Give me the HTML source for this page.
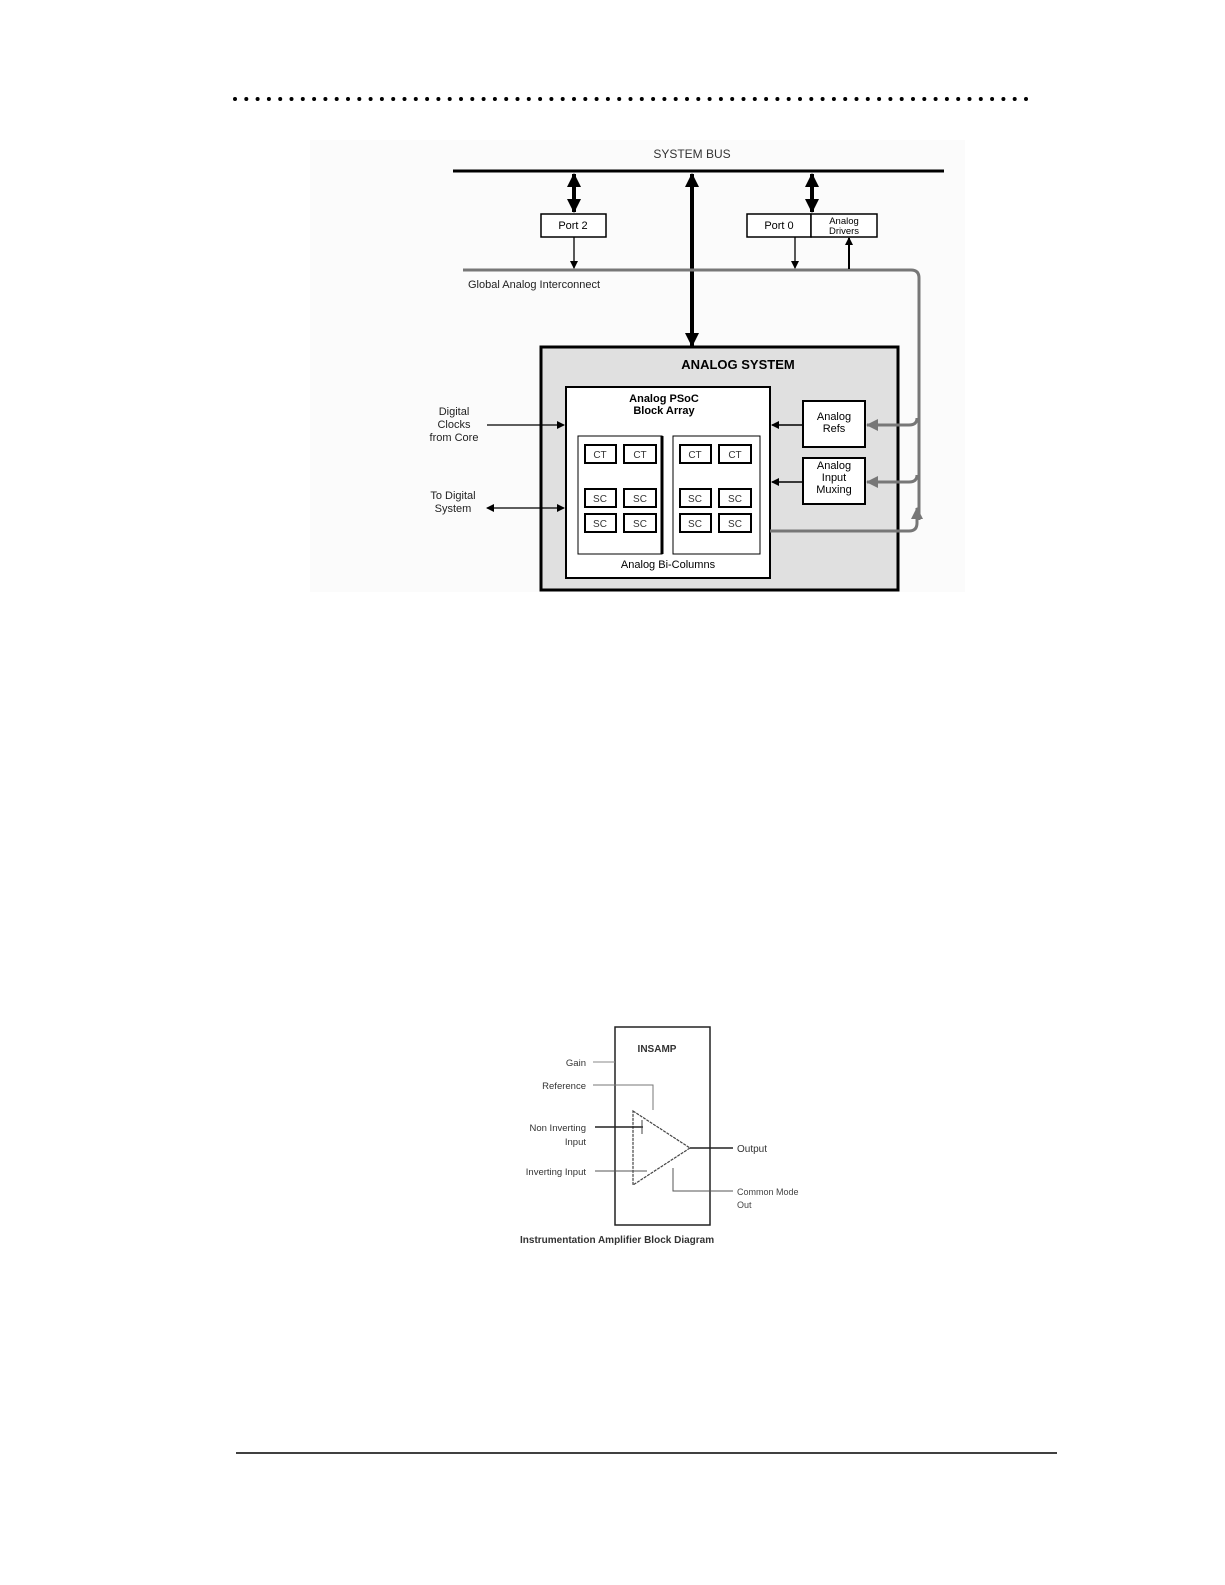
<!DOCTYPE html>
<html><head><meta charset="utf-8"><style>
html,body{margin:0;padding:0;background:#fff;}
svg{display:block;}
text{font-family:"Liberation Sans",sans-serif;}
</style></head><body>
<svg width="1225" height="1585" viewBox="0 0 1225 1585" xmlns="http://www.w3.org/2000/svg">
<defs>
<marker id="ab" markerWidth="8" markerHeight="8" refX="7" refY="4" orient="auto-start-reverse" markerUnits="userSpaceOnUse"><path d="M0,0 L8,4 L0,8 z" fill="#000"/></marker>
<marker id="abig" markerWidth="14" markerHeight="14" refX="13" refY="7" orient="auto-start-reverse" markerUnits="userSpaceOnUse"><path d="M0,0 L14,7 L0,14 z" fill="#000"/></marker>
<marker id="ag" markerWidth="12" markerHeight="12" refX="11" refY="6" orient="auto-start-reverse" markerUnits="userSpaceOnUse"><path d="M0,0 L12,6 L0,12 z" fill="#777"/></marker>
</defs>
<!-- dotted header -->
<line x1="235" y1="99" x2="1030" y2="99" stroke="#000" stroke-width="4" stroke-linecap="round" stroke-dasharray="0 11.3"/>
<!-- diagram bg -->
<rect x="310" y="140" width="655" height="452" fill="#fbfbfb"/>
<text x="692" y="158" font-size="12" text-anchor="middle" fill="#333">SYSTEM  BUS</text>
<line x1="453" y1="171" x2="944" y2="171" stroke="#000" stroke-width="3"/>
<!-- arrows from bus -->
<line x1="574" y1="174" x2="574" y2="212" stroke="#000" stroke-width="4" marker-start="url(#abig)" marker-end="url(#abig)"/>
<line x1="692" y1="174" x2="692" y2="346" stroke="#000" stroke-width="4" marker-start="url(#abig)" marker-end="url(#abig)"/>
<line x1="812" y1="174" x2="812" y2="212" stroke="#000" stroke-width="4" marker-start="url(#abig)" marker-end="url(#abig)"/>
<rect x="541" y="214" width="65" height="23" fill="#fff" stroke="#000" stroke-width="1.5"/>
<text x="573" y="229" font-size="11" text-anchor="middle">Port 2</text>
<rect x="747" y="214" width="64" height="23" fill="#fff" stroke="#000" stroke-width="1.5"/>
<rect x="811" y="214" width="66" height="23" fill="#fff" stroke="#000" stroke-width="1.5"/>
<text x="779" y="229" font-size="11" text-anchor="middle">Port 0</text>
<text x="844" y="224" font-size="9.5" text-anchor="middle">Analog</text>
<text x="844" y="234" font-size="9.5" text-anchor="middle">Drivers</text>
<!-- global analog interconnect -->
<path d="M463,270 H911 Q919,270 919,278 V520" fill="none" stroke="#777" stroke-width="3"/>
<line x1="574" y1="237" x2="574" y2="268" stroke="#000" stroke-width="1.3" marker-end="url(#ab)"/>
<line x1="795" y1="237" x2="795" y2="268" stroke="#000" stroke-width="1.3" marker-end="url(#ab)"/>
<line x1="849" y1="269" x2="849" y2="238" stroke="#000" stroke-width="2" marker-end="url(#ab)"/>
<text x="468" y="288" font-size="11" fill="#222">Global Analog Interconnect</text>
<!-- analog system -->
<rect x="541" y="347" width="357" height="243" fill="#e0e0e0" stroke="#000" stroke-width="3"/>
<text x="738" y="369" font-size="13" font-weight="bold" text-anchor="middle">ANALOG SYSTEM</text>
<rect x="566" y="387" width="204" height="191" fill="#fff" stroke="#000" stroke-width="2"/>
<text x="664" y="402" font-size="11" font-weight="bold" text-anchor="middle">Analog PSoC</text>
<text x="664" y="414" font-size="11" font-weight="bold" text-anchor="middle">Block Array</text>
<rect x="578" y="436" width="84" height="118" fill="#fff" stroke="#000" stroke-width="1"/>
<line x1="662" y1="436" x2="662" y2="554" stroke="#000" stroke-width="3"/>
<rect x="673" y="436" width="87" height="118" fill="#fff" stroke="#000" stroke-width="1"/>
<g fill="#fff" stroke="#000" stroke-width="2" >
<rect x="585" y="445" width="31" height="18"/><rect x="624" y="445" width="32" height="18"/>
<rect x="680" y="445" width="31" height="18"/><rect x="719" y="445" width="32" height="18"/>
<rect x="585" y="489" width="31" height="18"/><rect x="624" y="489" width="32" height="18"/>
<rect x="680" y="489" width="31" height="18"/><rect x="719" y="489" width="32" height="18"/>
<rect x="585" y="514" width="31" height="18"/><rect x="624" y="514" width="32" height="18"/>
<rect x="680" y="514" width="31" height="18"/><rect x="719" y="514" width="32" height="18"/>
</g>
<g font-size="10" text-anchor="middle" fill="#333">
<text x="600" y="458">CT</text><text x="640" y="458">CT</text><text x="695" y="458">CT</text><text x="735" y="458">CT</text>
<text x="600" y="502">SC</text><text x="640" y="502">SC</text><text x="695" y="502">SC</text><text x="735" y="502">SC</text>
<text x="600" y="527">SC</text><text x="640" y="527">SC</text><text x="695" y="527">SC</text><text x="735" y="527">SC</text>
</g>
<text x="668" y="568" font-size="11" text-anchor="middle">Analog Bi-Columns</text>
<rect x="803" y="401" width="62" height="46" fill="#fff" stroke="#000" stroke-width="2"/>
<text x="834" y="420" font-size="11" text-anchor="middle">Analog</text>
<text x="834" y="432" font-size="11" text-anchor="middle">Refs</text>
<rect x="803" y="458" width="62" height="46" fill="#fff" stroke="#000" stroke-width="2"/>
<text x="834" y="469" font-size="11" text-anchor="middle">Analog</text>
<text x="834" y="481" font-size="11" text-anchor="middle">Input</text>
<text x="834" y="493" font-size="11" text-anchor="middle">Muxing</text>
<line x1="803" y1="425" x2="772" y2="425" stroke="#000" stroke-width="1.5" marker-end="url(#ab)"/>
<line x1="803" y1="482" x2="772" y2="482" stroke="#000" stroke-width="1.5" marker-end="url(#ab)"/>
<path d="M917,418 Q917,425 909,425 H867" fill="none" stroke="#777" stroke-width="3" marker-end="url(#ag)"/>
<path d="M917,475 Q917,482 909,482 H867" fill="none" stroke="#777" stroke-width="3" marker-end="url(#ag)"/>
<path d="M770,531 H909 Q917,531 917,523 V508" fill="none" stroke="#777" stroke-width="3" marker-end="url(#ag)"/>
<!-- left labels -->
<g font-size="11" text-anchor="middle" fill="#222">
<text x="454" y="415">Digital</text><text x="454" y="428">Clocks</text><text x="454" y="441">from Core</text>
<text x="453" y="499">To Digital</text><text x="453" y="512">System</text>
</g>
<line x1="487" y1="425" x2="564" y2="425" stroke="#000" stroke-width="1.3" marker-end="url(#ab)"/>
<line x1="487" y1="508" x2="564" y2="508" stroke="#000" stroke-width="1.3" marker-start="url(#ab)" marker-end="url(#ab)"/>

<!-- INSAMP diagram -->
<rect x="615" y="1027" width="95" height="198" fill="#fff" stroke="#222" stroke-width="1.5"/>
<text x="657" y="1052" font-size="10" font-weight="bold" text-anchor="middle" fill="#333">INSAMP</text>
<g font-size="9.5" fill="#333" text-anchor="end">
<text x="586" y="1066">Gain</text>
<text x="586" y="1089">Reference</text>
<text x="586" y="1131">Non Inverting</text>
<text x="586" y="1145">Input</text>
<text x="586" y="1175">Inverting Input</text>
</g>
<line x1="593" y1="1062" x2="615" y2="1062" stroke="#888" stroke-width="1"/>
<polyline points="593,1085 653,1085 653,1110" fill="none" stroke="#777" stroke-width="1"/>
<polygon points="633,1111 690,1148 633,1185" fill="#fff" stroke="#444" stroke-width="1.2" stroke-dasharray="3 1"/>
<line x1="595" y1="1127" x2="643" y2="1127" stroke="#222" stroke-width="1.5"/>
<line x1="642" y1="1120" x2="642" y2="1134" stroke="#444" stroke-width="1"/>
<line x1="595" y1="1171" x2="647" y2="1171" stroke="#555" stroke-width="1"/>
<line x1="690" y1="1148" x2="733" y2="1148" stroke="#222" stroke-width="1.5"/>
<text x="737" y="1152" font-size="10" fill="#333">Output</text>
<polyline points="673,1168 673,1191 733,1191" fill="none" stroke="#555" stroke-width="1"/>
<text x="737" y="1195" font-size="9" fill="#444">Common Mode</text>
<text x="737" y="1208" font-size="9" fill="#444">Out</text>
<text x="520" y="1243" font-size="10" font-weight="bold" fill="#333">Instrumentation Amplifier Block Diagram</text>

<line x1="236" y1="1453" x2="1057" y2="1453" stroke="#000" stroke-width="1.5"/>
</svg>
</body></html>
